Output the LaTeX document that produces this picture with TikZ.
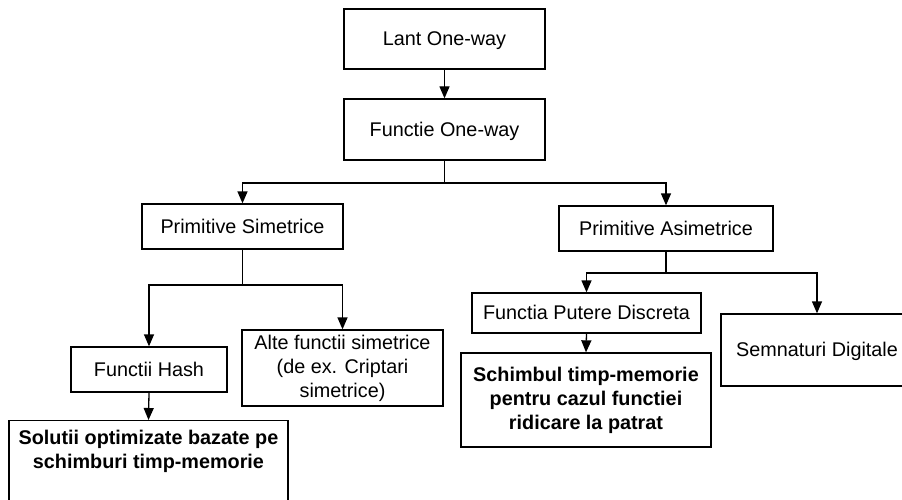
\documentclass[tikz,border=0pt]{standalone}
\usepackage{fontspec}
\setmainfont{Liberation Sans}
\usetikzlibrary{arrows.meta}
\begin{document}
\begin{tikzpicture}[x=1pt,y=-1pt,
  every node/.style={font=\fontsize{19.8}{24}\selectfont},
  box/.style={draw=black,line width=1.3pt,inner sep=2pt,align=center},
  one/.style={text height=14pt,text depth=1pt},
  bold/.style={font=\fontsize{19.8}{24}\selectfont\bfseries},
  link/.style={draw=black,line width=1.3pt},
  arr/.style={link,-{Triangle[length=12pt,width=10pt]}}]
\useasboundingbox (0,0) rectangle (902,500);
\clip (0,0) rectangle (902,500);
\fill[white] (0,0) rectangle (902,500);

% top chain
\node[box,one,minimum width=201pt,minimum height=60pt] (lant) at (444.5,39) {Lant One-way};
\node[box,one,minimum width=201pt,minimum height=61pt] (func) at (444.5,129.5) {Functie One-way};

% first split
\node[box,one,minimum width=201pt,minimum height=45pt] (psim) at (242.5,226.5) {Primitive Simetrice};
\node[box,one,minimum width=214pt,minimum height=45pt] (pasim) at (666,228.5) {Primitive Asimetrice};

% symmetric branch
\node[box,one,minimum width=156pt,minimum height=45pt] (hash) at (149,369.5) {Functii Hash};
\node[box,minimum width=201pt,minimum height=76pt] (alte) at (342.5,368) {Alte functii simetrice\\(de ex. Criptari\\simetrice)};
\node[box,minimum width=279pt,minimum height=100pt,anchor=north] (sol) at (148.5,420) {};
\node[bold,align=center,anchor=north] (soltxt) at (148.5,427) {Solutii optimizate bazate pe\\schimburi timp-memorie};

% asymmetric branch
\node[box,one,minimum width=229pt,minimum height=40pt] (putere) at (586.5,313) {Functia Putere Discreta};
\node[box,one,minimum width=192pt,minimum height=72pt] (semn) at (817,350) {Semnaturi Digitale};
\node[box,bold,minimum width=250pt,minimum height=94pt] (schimb) at (586,400) {Schimbul timp-memorie\\pentru cazul functiei\\ridicare la patrat};

% junction points of the bus lines
\coordinate (j1) at (444.5,183);
\coordinate (j2) at (242.5,285);
\coordinate (j3) at (666,273);

\draw[arr] (lant) -- (func);
\draw[link] (func.south) -- (j1);
\draw[arr] (j1) -| (psim.north);
\draw[arr] (j1) -| (pasim.north);

\draw[link] (psim.south) -- (j2);
\draw[arr] (j2) -| (hash.north);
\draw[arr] (j2) -| (alte.north);
\draw[arr] (hash.south) -- (sol.north);

\draw[link] (pasim.south) -- (j3);
\draw[arr] (j3) -| (putere.north);
\draw[arr] (j3) -| (semn.north);
\draw[arr] (putere.south) -- (schimb.north);
\end{tikzpicture}
\end{document}
